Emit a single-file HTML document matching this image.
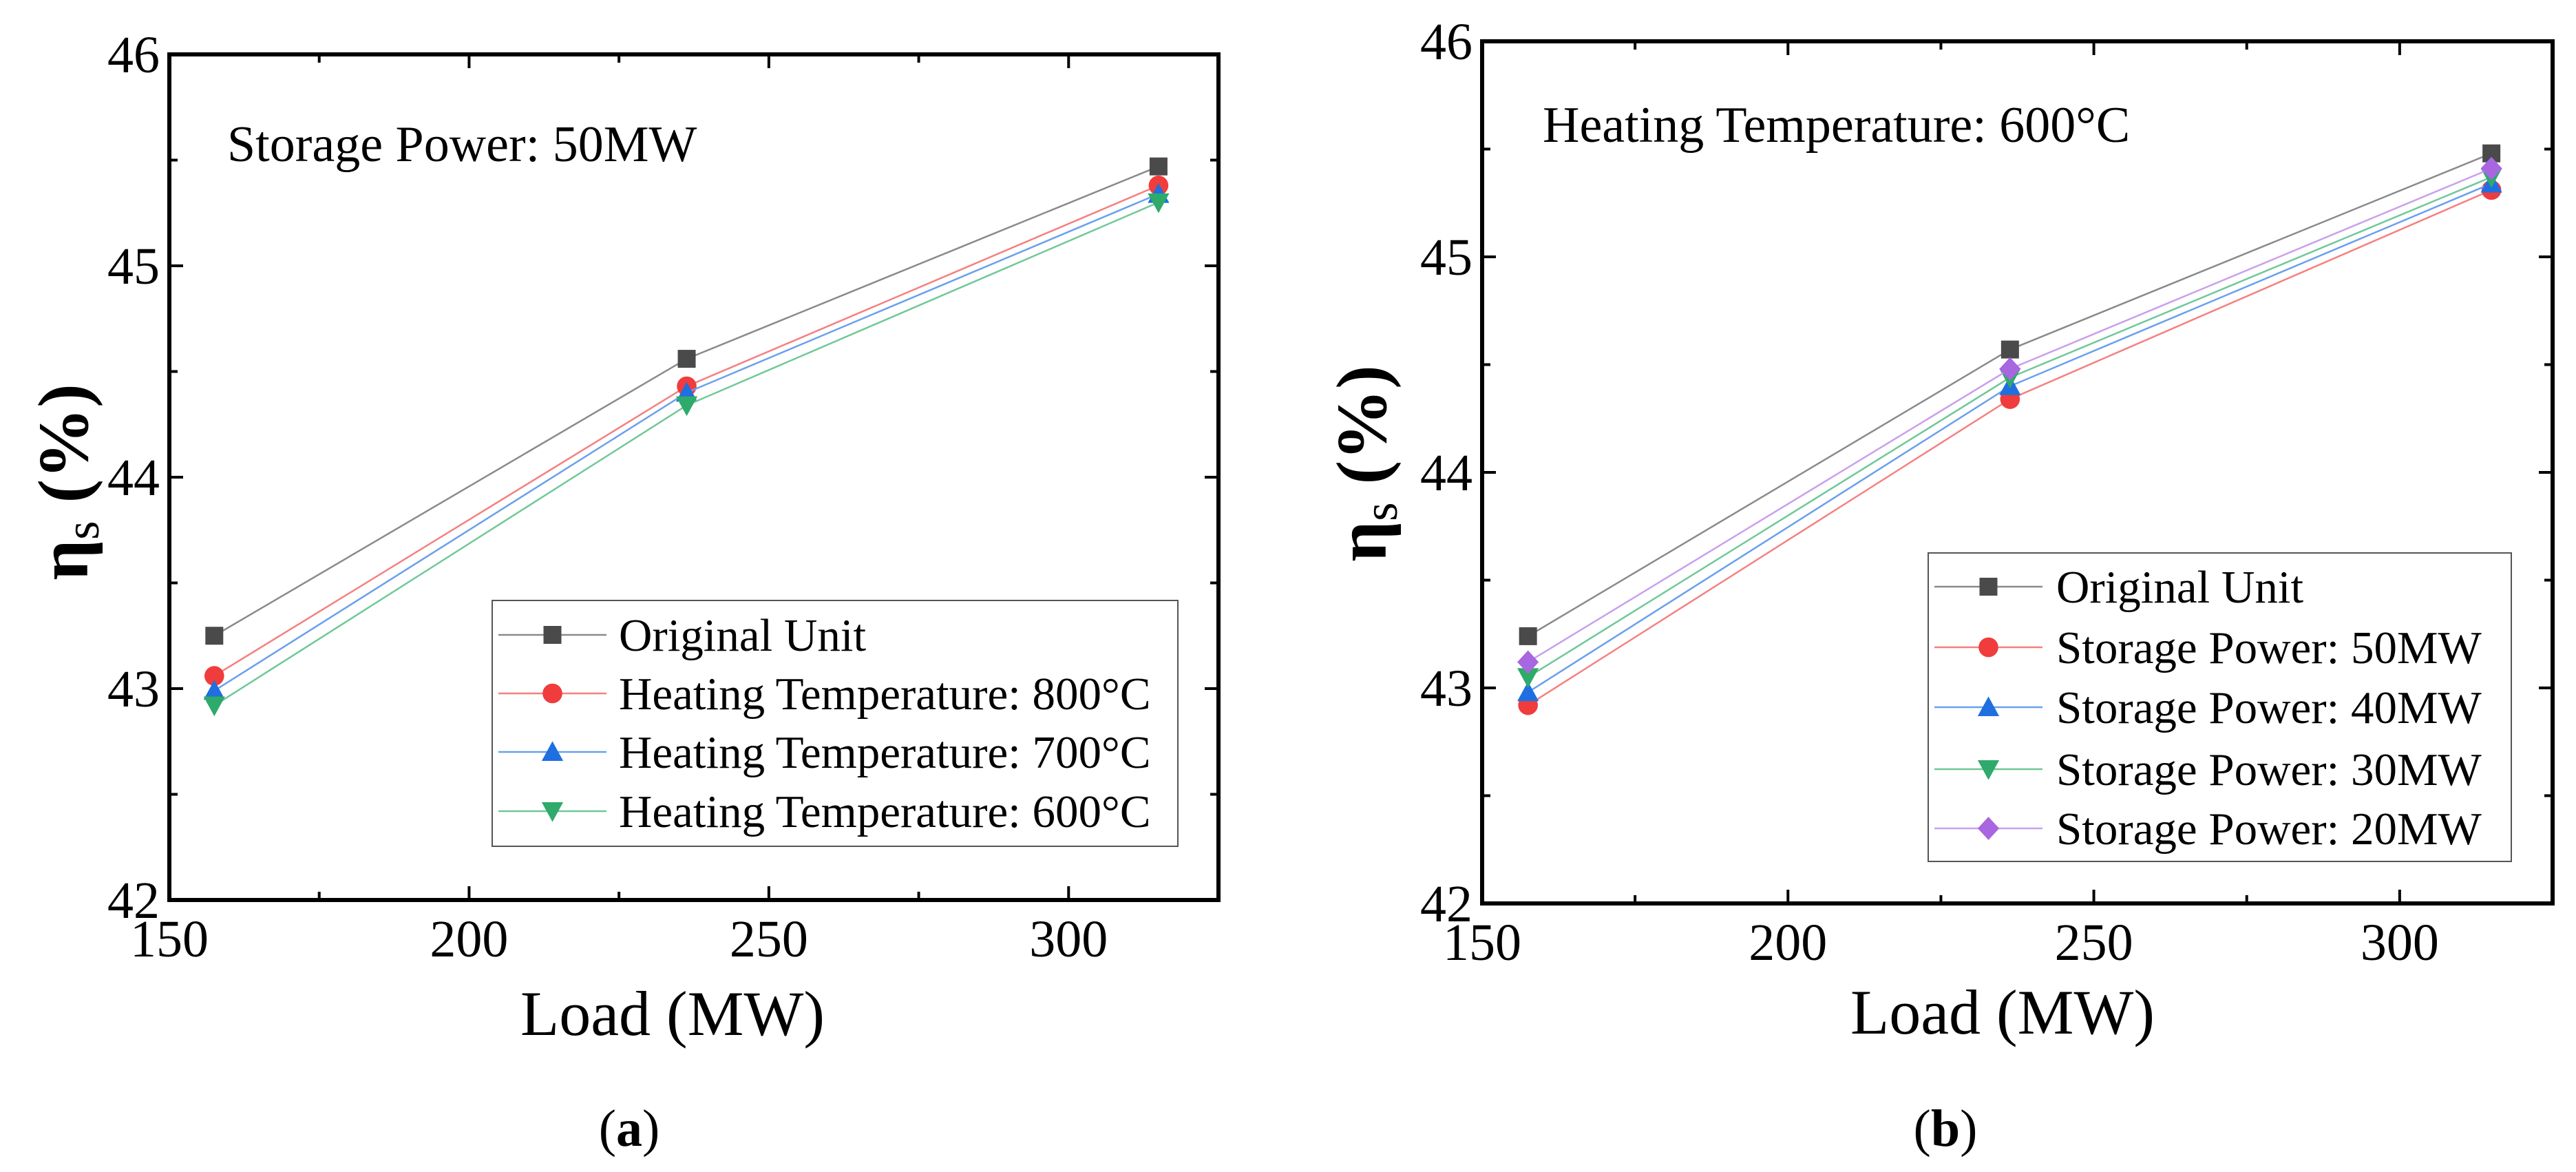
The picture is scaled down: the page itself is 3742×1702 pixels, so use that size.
<!DOCTYPE html>
<html><head><meta charset="utf-8"><style>
html,body{margin:0;padding:0;background:#fff;}
svg{display:block;font-family:"Liberation Serif",serif;}
</style></head><body>
<svg id="s" width="3742" height="1702" viewBox="0 0 3742 1702" xmlns="http://www.w3.org/2000/svg"></svg>
<script>
const loads = [157.5, 236.3, 315];
const xTicks = [150, 200, 250, 300];
const yTicks = [42, 43, 44, 45, 46];
const aLabels = ["Original Unit","Heating Temperature: 800°C","Heating Temperature: 700°C","Heating Temperature: 600°C"];
const aOriginal = [43.25, 44.56, 45.47];
const a800 = [43.06, 44.43, 45.38];
const a700 = [42.99, 44.40, 45.34];
const a600 = [42.92, 44.34, 45.30];
const bLabels = ["Original Unit","Storage Power: 50MW","Storage Power: 40MW","Storage Power: 30MW","Storage Power: 20MW"];
const bOriginal = [43.24, 44.57, 45.48];
const b50 = [42.92, 44.34, 45.31];
const b40 = [42.98, 44.40, 45.34];
const b30 = [43.05, 44.44, 45.37];
const b20 = [43.12, 44.48, 45.41];

const NS="http://www.w3.org/2000/svg";
const svg=document.getElementById('s');
function mk(tag,at,parent){const e=document.createElementNS(NS,tag);for(const k in at)e.setAttribute(k,at[k]);(parent||svg).appendChild(e);return e;}
const styles={
 square:{c:'#4a4a4a',l:'#8a8a8a'},
 circle:{c:'#f03c3c',l:'#f58080'},
 up:{c:'#1f6fe0',l:'#6aa0ee'},
 down:{c:'#2eaa6a',l:'#70c898'},
 diamond:{c:'#a866e0',l:'#c9a0ee'}
};
function marker(g,type,x,y,s){
 const c=styles[type].c;let e;
 if(type==='square')e=mk('rect',{x:x-s,y:y-s,width:2*s,height:2*s,fill:c},g);
 else if(type==='circle')e=mk('circle',{cx:x,cy:y,r:s*1.1,fill:c},g);
 else if(type==='up')e=mk('polygon',{points:`${x},${y-s*1.2} ${x-s*1.2},${y+s} ${x+s*1.2},${y+s}`,fill:c},g);
 else if(type==='down')e=mk('polygon',{points:`${x},${y+s*1.2} ${x-s*1.2},${y-s} ${x+s*1.2},${y-s}`,fill:c},g);
 else e=mk('polygon',{points:`${x},${y-s*1.3} ${x+s*1.2},${y} ${x},${y+s*1.3} ${x-s*1.2},${y}`,fill:c},g);
 return e;
}
function chart(cfg){
 const g=mk('g',{});
 
 
 const {L,R,T,B}=cfg;
 const X=v=>L+(v-150)/(325-150)*(R-L);
 const Y=v=>B-(v-42)/4*(B-T);
 for(let v=150;v<=325;v+=25){
  const maj=(v%50===0);const len=maj?20:12;
  const t1=mk('line',{x1:X(v),x2:X(v),y1:B,y2:B-len,stroke:'#000','stroke-width':4},g);
  
  const t2=mk('line',{x1:X(v),x2:X(v),y1:T,y2:T+len,stroke:'#000','stroke-width':4},g);
  
 }
 for(let v=42;v<=46;v+=0.5){
  const maj=(v%1===0);const len=maj?20:12;
  const t1=mk('line',{x1:L,x2:L+len,y1:Y(v),y2:Y(v),stroke:'#000','stroke-width':4},g);
  
  const t2=mk('line',{x1:R,x2:R-len,y1:Y(v),y2:Y(v),stroke:'#000','stroke-width':4},g);
  
 }
 xTicks.forEach(v=>{const t=mk('text',{x:X(v),y:B+82,'font-size':76,'text-anchor':'middle'},g);t.textContent=v;
  });
 yTicks.forEach(v=>{const t=mk('text',{x:L-14,y:Y(v)+26,'font-size':76,'text-anchor':'end'},g);t.textContent=v;
  });
 cfg.series.forEach((s,i)=>{
  const sg=mk('g',{},g);
  
  
  const pts=loads.map((x,j)=>X(x)+','+Y(s.vals[j])).join(' ');
  mk('polyline',{points:pts,fill:'none',stroke:styles[s.m].l,'stroke-width':2.5},sg);
  loads.forEach((x,j)=>{const m=marker(sg,s.m,X(x),Y(s.vals[j]),13);
   });
 });
 const f=mk('rect',{x:L,y:T,width:R-L,height:B-T,fill:'none',stroke:'#000','stroke-width':6},g);
 
 const lg=mk('g',{},g);
 
 
 const lb=cfg.leg;
 mk('rect',{x:lb.x1,y:lb.y1,width:lb.x2-lb.x1,height:lb.y2-lb.y1,fill:'#fff',stroke:'#555','stroke-width':2},lg);
 cfg.series.forEach((s,i)=>{
  const y=lb.rows[i];
  const eg=mk('g',{},lg);
  
  
  mk('line',{x1:lb.l1,x2:lb.l2,y1:y,y2:y,stroke:styles[s.m].l,'stroke-width':2.5},eg);
  marker(eg,s.m,(lb.l1+lb.l2)/2,y,13);
  const t=mk('text',{x:lb.tx,y:y+23,'font-size':67},eg);t.textContent=cfg.labels[i];
 });
 const an=mk('text',{x:cfg.ann.x,y:cfg.ann.y,'font-size':74},g);an.textContent=cfg.ann.t;
 
 const xt=mk('text',{x:cfg.xt.x,y:cfg.xt.y,'font-size':92,'text-anchor':'middle'},g);xt.textContent='Load (MW)';
 
 const yt=mk('text',{x:0,y:0,'font-size':104,'font-weight':'bold','text-anchor':'middle',transform:`translate(${cfg.yt.x+36},${cfg.yt.y}) rotate(-90)`},g);
 
 const ts1=mk('tspan',{},yt);ts1.textContent='η';
 const ts2=mk('tspan',{'font-size':70,'font-weight':'normal',dy:16},yt);ts2.textContent='s';
 const ts3=mk('tspan',{dy:-16},yt);ts3.textContent=' (%)';
 const pl=mk('text',{x:cfg.pl.x,y:cfg.pl.y,'font-size':76,'text-anchor':'middle'},g);
 
 const p1=mk('tspan',{},pl);p1.textContent='(';
 const p2=mk('tspan',{'font-weight':'bold'},pl);p2.textContent=cfg.pl.t;
 const p3=mk('tspan',{},pl);p3.textContent=')';
}
chart({name:'chart-a',L:246,R:1770,T:79,B:1307,
 series:[{key:'original',m:'square',vals:aOriginal},{key:'800c',m:'circle',vals:a800},{key:'700c',m:'up',vals:a700},{key:'600c',m:'down',vals:a600}],
 labels:aLabels,
 leg:{x1:715,x2:1711,y1:872,y2:1229,rows:[922,1007,1092,1178],l1:724,l2:881,tx:899},
 ann:{x:330,y:234,t:'Storage Power: 50MW'},
 xt:{x:977,y:1503},yt:{x:91,y:700},pl:{x:914,y:1664,t:'a'}});
chart({name:'chart-b',L:2153,R:3708,T:60,B:1312,
 series:[{key:'original',m:'square',vals:bOriginal},{key:'50mw',m:'circle',vals:b50},{key:'40mw',m:'up',vals:b40},{key:'30mw',m:'down',vals:b30},{key:'20mw',m:'diamond',vals:b20}],
 labels:bLabels,
 leg:{x1:2801,x2:3648,y1:803,y2:1251,rows:[852,940,1027,1117,1203],l1:2810,l2:2967,tx:2987},
 ann:{x:2241,y:206,t:'Heating Temperature: 600°C'},
 xt:{x:2909,y:1501},yt:{x:1977,y:673},pl:{x:2826,y:1664,t:'b'}});
</script>
</body></html>
